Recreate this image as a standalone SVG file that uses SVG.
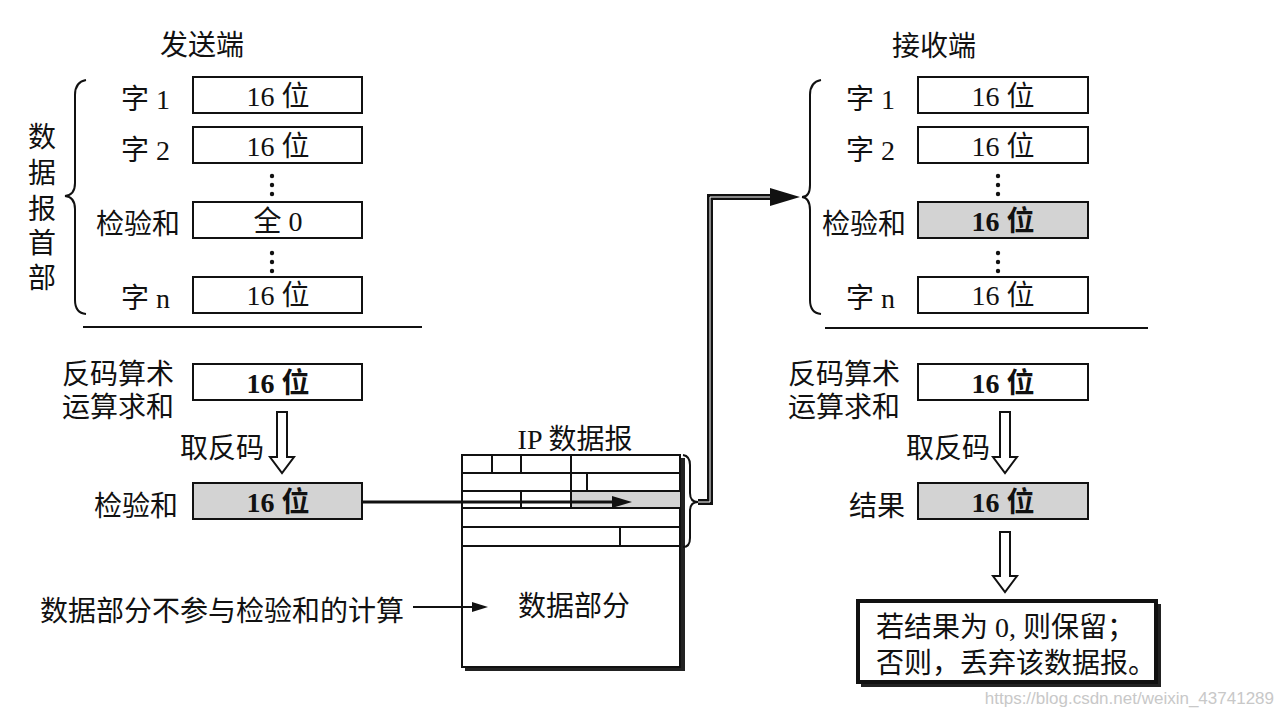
<svg xmlns="http://www.w3.org/2000/svg" width="1284" height="716" viewBox="0 0 1284 716">
<style>
text{font-family:"Liberation Serif","Noto Sans CJK SC",serif;fill:#111}
.t{font-size:28px}
.c{text-anchor:middle}
.r{text-anchor:end}
.b{font-weight:bold}
.box{fill:#fff;stroke:#111;stroke-width:2}
.sh{fill:#d3d3d3;stroke:#111;stroke-width:2}
.ln{fill:none;stroke:#111;stroke-width:2}
.hol{fill:#fff;stroke:#111;stroke-width:2;stroke-linejoin:miter}
.dot{fill:#111}
</style>
<rect width="1284" height="716" fill="#fff"/>

<!-- Sender -->
<g id="sender-title"><text class="t c" x="202" y="55">发送端</text></g>
<g id="sender-header-label">
<text class="t c" x="42" y="147">数</text>
<text class="t c" x="42" y="183">据</text>
<text class="t c" x="42" y="219">报</text>
<text class="t c" x="42" y="253">首</text>
<text class="t c" x="42" y="288">部</text>
<path class="ln" d="M86,80 Q75,82 75,95 V183 Q75,195 65,196 Q75,197 75,209 V300 Q75,313 86,314"/>
</g>
<g id="s-word1"><text class="t r" x="170" y="109">字 1</text><rect class="box" x="193" y="77" width="169" height="36"/><text class="t c" x="278" y="106">16 位</text></g>
<g id="s-word2"><text class="t r" x="170" y="160">字 2</text><rect class="box" x="193" y="127" width="169" height="36"/><text class="t c" x="278" y="156">16 位</text></g>
<g id="s-dots1"><circle class="dot" cx="272" cy="176" r="2.2"/><circle class="dot" cx="272" cy="185" r="2.2"/><circle class="dot" cx="272" cy="194" r="2.2"/></g>
<g id="s-checksum"><text class="t r" x="180" y="234">检验和</text><rect class="box" x="193" y="202" width="169" height="36"/><text class="t c" x="278" y="231">全 0</text></g>
<g id="s-dots2"><circle class="dot" cx="272" cy="253" r="2.2"/><circle class="dot" cx="272" cy="262" r="2.2"/><circle class="dot" cx="272" cy="271" r="2.2"/></g>
<g id="s-wordn"><text class="t r" x="170" y="308">字 n</text><rect class="box" x="193" y="277" width="169" height="36"/><text class="t c" x="278" y="305">16 位</text></g>
<line class="ln" x1="83" y1="327" x2="422" y2="327"/>

<g id="s-sum"><text class="t" x="62" y="384">反码算术</text><text class="t" x="62" y="417">运算求和</text><rect class="box" x="193" y="364" width="169" height="36"/><text class="t c b" x="278" y="393">16 位</text></g>
<g id="s-invert"><path class="hol" d="M277,412 H287 V457 H294 L282,473 L270,457 H277 Z"/><text class="t" x="180" y="458">取反码</text></g>
<g id="s-result"><text class="t r" x="178" y="516">检验和</text><rect class="sh" x="193" y="483" width="169" height="36"/><text class="t c b" x="278" y="512">16 位</text></g>

<!-- IP datagram -->
<g id="ip-datagram">
<text class="t c" x="575" y="449">IP 数据报</text>
<rect x="465" y="458" width="220" height="213" fill="#222"/>
<rect class="box" x="462" y="455" width="218" height="212"/>
<rect x="571" y="491" width="109" height="17" fill="#d3d3d3"/>
<line class="ln" x1="462" y1="473" x2="680" y2="473"/>
<line class="ln" x1="462" y1="491" x2="680" y2="491"/>
<line class="ln" x1="462" y1="508" x2="680" y2="508"/>
<line class="ln" x1="462" y1="527" x2="680" y2="527"/>
<line class="ln" x1="462" y1="546" x2="680" y2="546"/>
<line class="ln" x1="492" y1="455" x2="492" y2="473"/>
<line class="ln" x1="521" y1="455" x2="521" y2="473"/>
<line class="ln" x1="571" y1="455" x2="571" y2="508"/>
<line class="ln" x1="587" y1="473" x2="587" y2="491"/>
<line class="ln" x1="521" y1="491" x2="521" y2="508"/>
<line class="ln" x1="620" y1="527" x2="620" y2="546"/>
<text class="t c" x="574" y="616">数据部分</text>
<path class="ln" d="M683,455 Q690,456 690,465 V493 Q690,502 698,502 Q690,502 690,511 V538 Q690,547 683,547"/>
</g>

<g id="note-data"><text class="t" x="40" y="621">数据部分不参与检验和的计算</text></g>

<!-- Receiver -->
<g id="receiver-title"><text class="t c" x="934" y="56">接收端</text></g>
<g id="r-brace"><path class="ln" d="M821,80 Q810,82 810,95 V185 Q810,197 802,197 Q810,198 810,210 V300 Q810,313 821,314"/></g>
<g id="r-word1"><text class="t r" x="895" y="109">字 1</text><rect class="box" x="918" y="77" width="170" height="36"/><text class="t c" x="1003" y="106">16 位</text></g>
<g id="r-word2"><text class="t r" x="895" y="160">字 2</text><rect class="box" x="918" y="127" width="170" height="36"/><text class="t c" x="1003" y="156">16 位</text></g>
<g id="r-dots1"><circle class="dot" cx="998" cy="176" r="2.2"/><circle class="dot" cx="998" cy="185" r="2.2"/><circle class="dot" cx="998" cy="194" r="2.2"/></g>
<g id="r-checksum"><text class="t r" x="906" y="234">检验和</text><rect class="sh" x="918" y="202" width="170" height="36"/><text class="t c b" x="1003" y="231">16 位</text></g>
<g id="r-dots2"><circle class="dot" cx="998" cy="253" r="2.2"/><circle class="dot" cx="998" cy="262" r="2.2"/><circle class="dot" cx="998" cy="271" r="2.2"/></g>
<g id="r-wordn"><text class="t r" x="895" y="308">字 n</text><rect class="box" x="918" y="277" width="170" height="36"/><text class="t c" x="1003" y="305">16 位</text></g>
<line class="ln" x1="825" y1="328" x2="1148" y2="328"/>

<g id="r-sum"><text class="t" x="788" y="384">反码算术</text><text class="t" x="788" y="417">运算求和</text><rect class="box" x="918" y="364" width="170" height="36"/><text class="t c b" x="1003" y="393">16 位</text></g>
<g id="r-invert"><path class="hol" d="M1000,412 H1010 V457 H1017 L1005,473 L993,457 H1000 Z"/><text class="t" x="906" y="458">取反码</text></g>
<g id="r-result"><text class="t r" x="905" y="516">结果</text><rect class="sh" x="918" y="483" width="170" height="36"/><text class="t c b" x="1003" y="512">16 位</text></g>
<g id="r-decision">
<rect x="861" y="604" width="300" height="83" fill="#222"/>
<rect x="858" y="601" width="298" height="81" fill="#fff" stroke="#111" stroke-width="4"/>
<text class="t" x="876" y="637">若结果为 0, 则保留；</text>
<text class="t" x="876" y="673">否则，丢弃该数据报。</text>
</g>

<!-- Connectors -->
<g id="connectors">
<line x1="362" y1="502" x2="616" y2="502" stroke="#111" stroke-width="3"/>
<polygon points="612,496 632,502 612,508" fill="#111"/>
<line x1="413" y1="607" x2="476" y2="607" stroke="#111" stroke-width="2"/>
<polygon points="472,602 488,607 472,612" fill="#111"/>
<path d="M698,502 H710 V197 H775" fill="none" stroke="#111" stroke-width="6"/>
<path d="M698,502 H710 V197 H775" fill="none" stroke="#fff" stroke-width="1"/>
<polygon points="770,188 800,197 770,206" fill="#111"/>
<path class="hol" d="M1000,532 H1010 V576 H1017 L1005,592 L993,576 H1000 Z"/>
</g>

<text x="1274" y="704" text-anchor="end" style="font-family:'Liberation Sans',sans-serif;font-size:17px;fill:#c8c8c8">https://blog.csdn.net/weixin_43741289</text>
</svg>
